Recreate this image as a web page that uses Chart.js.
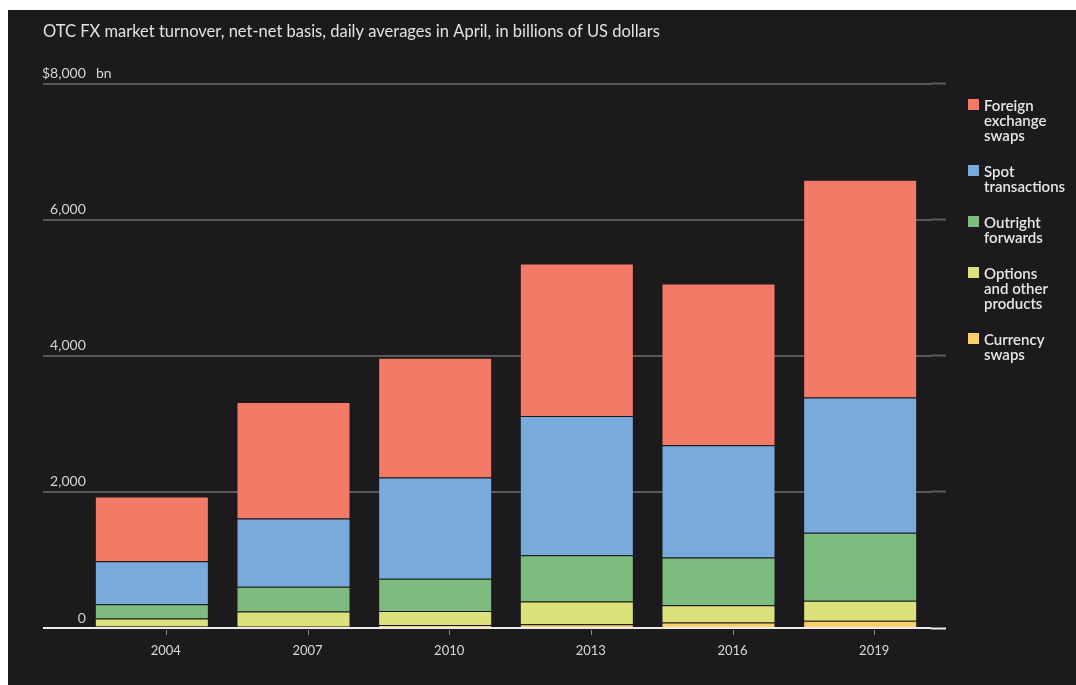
<!DOCTYPE html>
<html>
<head>
<meta charset="utf-8">
<script src="https://cdn.jsdelivr.net/npm/chart.js@4.4.1/dist/chart.umd.min.js"></script>
<style>
  body { margin: 0; background: #fff; font-family: Lato, sans-serif; }
  #panel { position: absolute; left: 8px; top: 10px; width: 1068px; height: 675px; background: #1c1a1d; }
  #wrap { position: absolute; left: 0; top: 0; width: 1076px; height: 685px; }
  #legend { position: absolute; left: 968px; top: 98px; color: #e6e6e6; font: 600 15px/15px Lato, sans-serif; }
  .item { position: relative; padding-left: 16px; margin-bottom: 21px; white-space: pre-line; }
  .sw { position: absolute; left: 0; top: 1px; width: 11px; height: 11px; }
</style>
</head>
<body>
<div id="panel"></div>
<div id="wrap"><canvas id="Grafico" width="1076" height="685"></canvas></div>
<div id="legend"></div>
<script>
// Dados (bilhões de US$, média diária em abril) //
var anos = ['2004', '2007', '2010', '2013', '2016', '2019'];
var currencySwaps = [21, 31, 43, 54, 82, 108];
var opcoes = [119, 212, 207, 337, 254, 294];
var outright = [209, 362, 475, 679, 700, 999];
var spot = [631, 1005, 1489, 2047, 1652, 1987];
var fxSwaps = [954, 1714, 1759, 2240, 2378, 3202];
var yTicks = [0, 2000, 4000, 6000, 8000];
// ------------------------------ //

Chart.defaults.font.family = 'Lato, sans-serif';
var gridCor = '#5a5a5a';
var zeroCor = '#ececec';
var labelShift = 14;

function serie(nome, valores, cor) {
    return {
        label: nome,
        data: valores,
        backgroundColor: cor,
        borderColor: 'rgba(0, 0, 0, 0.14)',
        borderWidth: 1,
        barPercentage: 0.805,
        categoryPercentage: 1
    };
}

// Marcas do eixo X e sufixo "bn" //
const extras = {
    id: 'extras',
    afterDraw(chart) {
        const ctx = chart.ctx;
        const x = chart.scales.x;
        const y = chart.scales.y;
        ctx.save();
        ctx.strokeStyle = '#8a8a8a';
        ctx.lineWidth = 1;
        for (var i = 0; i < anos.length; i++) {
            var px = Math.round(x.getPixelForTick(i) + labelShift) + 0.5;
            ctx.beginPath();
            ctx.moveTo(px, y.bottom + 2);
            ctx.lineTo(px, y.bottom + 7);
            ctx.stroke();
        }
        ctx.fillStyle = '#d4d4d4';
        ctx.font = '14px Lato, sans-serif';
        ctx.textBaseline = 'middle';
        ctx.textAlign = 'left';
        ctx.fillText('bn', chart.chartArea.left + 15, y.getPixelForValue(8000) - 10);
        ctx.restore();
    }
};

const data = {
    labels: anos,
    datasets: [
        serie('Currency\nswaps', currencySwaps, '#fdcf6c'),
        serie('Options\nand other\nproducts', opcoes, '#dbe27c'),
        serie('Outright\nforwards', outright, '#7dbb7e'),
        serie('Spot\ntransactions', spot, '#78aadb'),
        serie('Foreign\nexchange\nswaps', fxSwaps, '#f47a68')
    ]
};

const config = {
    type: 'bar',
    data: data,
    options: {
        responsive: false,
        animation: false,
        layout: { padding: { left: 43, right: 130, top: 10, bottom: 15 } },
        plugins: {
            legend: { display: false },
            tooltip: { enabled: false },
            title: {
                display: true,
                text: 'OTC FX market turnover, net-net basis, daily averages in April, in billions of US dollars',
                align: 'start',
                color: '#e2e2e2',
                font: { size: 16.5, weight: 'normal' },
                padding: { top: 12, bottom: 42 }
            }
        },
        scales: {
            x: {
                stacked: true,
                border: { display: false },
                grid: { display: false },
                ticks: {
                    color: '#d8d8d8',
                    font: { size: 13 },
                    labelOffset: labelShift,
                    padding: 7,
                    maxRotation: 0
                },
                afterFit: function (s) { s.height = 42; }
            },
            y: {
                stacked: true,
                min: 0,
                max: 8000,
                afterBuildTicks: function (s) { s.ticks = yTicks.map(v => ({ value: v })); },
                border: { display: false },
                grid: {
                    color: c => c.tick && c.tick.value === 0 ? zeroCor : gridCor,
                    tickColor: c => c.tick && c.tick.value === 0 ? zeroCor : gridCor,
                    lineWidth: 2,
                    tickWidth: 2,
                    tickLength: 38
                },
                ticks: {
                    color: '#d4d4d4',
                    font: { size: 14 },
                    mirror: true,
                    crossAlign: 'far',
                    padding: -39,
                    labelOffset: -10,
                    callback: function (v) {
                        return v === 8000 ? '$8,000' : v.toLocaleString('en-US');
                    }
                },
                afterFit: function (s) { s.width = 38; }
            },
            y2: {
                position: 'right',
                min: 0,
                max: 8000,
                afterBuildTicks: function (s) { s.ticks = yTicks.map(v => ({ value: v })); },
                border: { display: false },
                grid: {
                    drawOnChartArea: false,
                    tickColor: c => c.tick && c.tick.value === 0 ? zeroCor : gridCor,
                    tickWidth: 2,
                    tickLength: 15
                },
                ticks: { display: false },
                afterFit: function (s) { s.width = 15; }
            }
        }
    },
    plugins: [extras]
};

var myChart = new Chart(document.getElementById('Grafico'), config);

// Legenda em HTML (ordem invertida, de cima para baixo) //
var legenda = document.getElementById('legend');
data.datasets.slice().reverse().forEach(function (ds) {
    var item = document.createElement('div');
    item.className = 'item';
    var sw = document.createElement('span');
    sw.className = 'sw';
    sw.style.background = ds.backgroundColor;
    item.appendChild(sw);
    item.appendChild(document.createTextNode(ds.label));
    legenda.appendChild(item);
});
</script>
</body>
</html>
